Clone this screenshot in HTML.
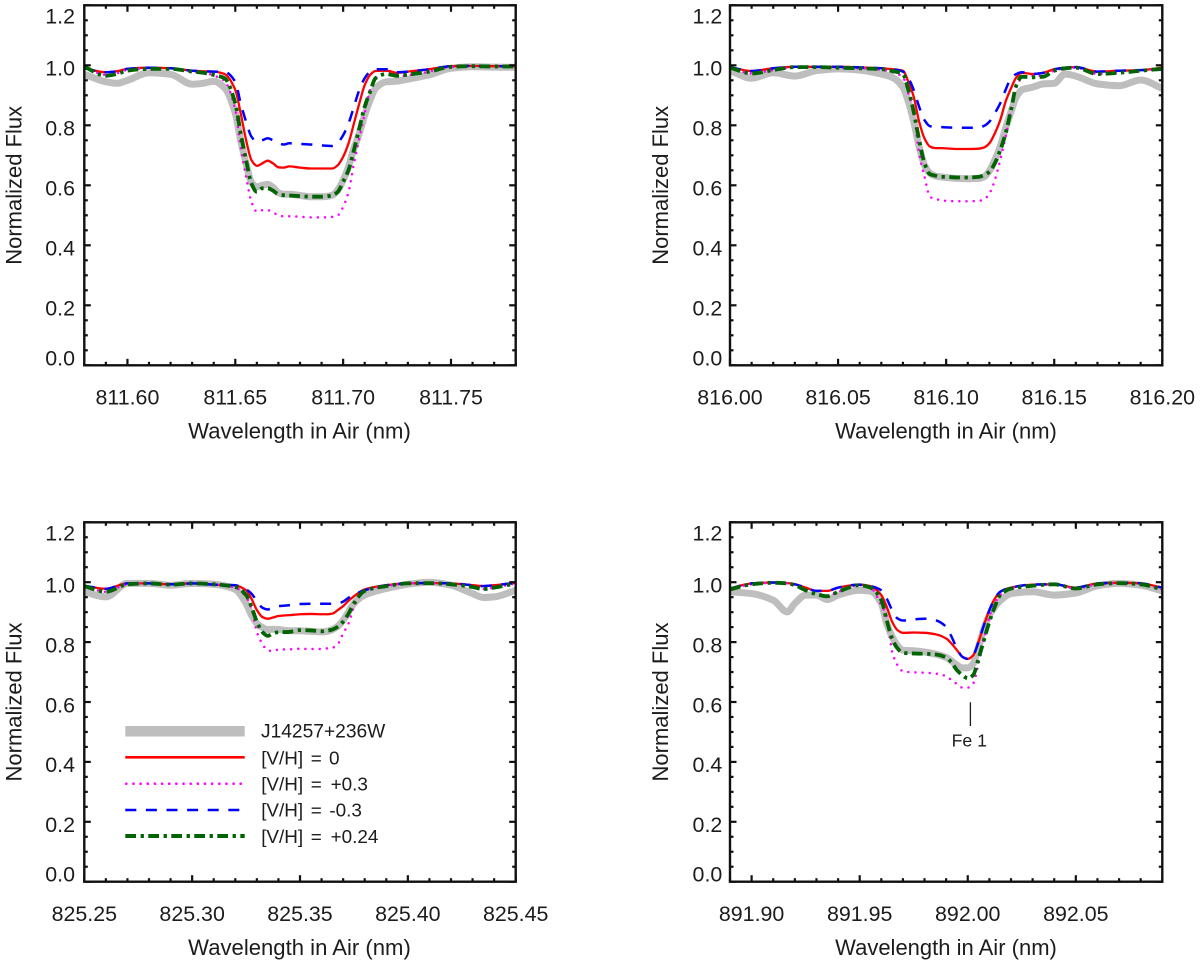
<!DOCTYPE html>
<html lang="en">
<head>
<meta charset="utf-8">
<title>Normalized flux spectra</title>
<style>
html,body{margin:0;padding:0;background:#fff;}
svg{display:block;}
text{font-family:"Liberation Sans",Arial,sans-serif;fill:#1c1c1c;}
</style>
</head>
<body>
<svg id="figure" xmlns="http://www.w3.org/2000/svg" width="1200" height="967" viewBox="0 0 1200 967">
  <rect x="0" y="0" width="1200" height="967" fill="#fff"/>
  <g id="panel-1">
    <text x="299.5" y="438.5" font-size="22.1" text-anchor="middle">Wavelength in Air (nm)</text>
    <text transform="translate(21.4,185.3) rotate(-90)" font-size="22" text-anchor="middle">Normalized Flux</text>
  </g>
  <g id="panel-2">
    <text x="946" y="438.5" font-size="22" text-anchor="middle">Wavelength in Air (nm)</text>
    <text transform="translate(667.9,185.3) rotate(-90)" font-size="22" text-anchor="middle">Normalized Flux</text>
  </g>
  <g id="panel-3">
    <text x="299.5" y="955" font-size="22.1" text-anchor="middle">Wavelength in Air (nm)</text>
    <text transform="translate(21.4,702) rotate(-90)" font-size="22" text-anchor="middle">Normalized Flux</text>
  </g>
  <g id="panel-4">
    <text x="946" y="955" font-size="22" text-anchor="middle">Wavelength in Air (nm)</text>
    <text transform="translate(667.9,702) rotate(-90)" font-size="22" text-anchor="middle">Normalized Flux</text>
    <line x1="970.4" y1="702.3" x2="970.4" y2="726" stroke="#1c1c1c" stroke-width="1.3"/>
    <text x="969.3" y="746.7" font-size="17.7" text-anchor="middle">Fe 1</text>
  </g>
  <g id="legend">
    <g>
      <line x1="125.3" y1="731.3" x2="244.7" y2="731.3" stroke="#bebebe" stroke-width="10.5"/>
      <text x="261" y="737.7" font-size="19.2">J14257+236W</text>
    </g>
    <g>
      <line x1="125.3" y1="757.3" x2="244.7" y2="757.3" stroke="#ff0000" stroke-width="2.6"/>
      <text y="764.3" font-size="18.9"><tspan x="261.2">[V/H]</tspan> <tspan x="310.7">=</tspan> <tspan x="329">0</tspan></text>
    </g>
    <g>
      <line x1="126.3" y1="783.7" x2="244.7" y2="783.7" stroke="#ff00ff" stroke-width="2.6" stroke-linecap="round" stroke-dasharray="0 7.15"/>
      <text y="790.7" font-size="18.9"><tspan x="261.2">[V/H]</tspan> <tspan x="310.7">=</tspan> <tspan x="330.6">+0.3</tspan></text>
    </g>
    <g>
      <line x1="125.3" y1="810" x2="244.7" y2="810" stroke="#0000ff" stroke-width="2.6" stroke-dasharray="11 9.6"/>
      <text y="816.7" font-size="18.9"><tspan x="261.2">[V/H]</tspan> <tspan x="310.7">=</tspan> <tspan x="329.4">-0.3</tspan></text>
    </g>
    <g>
      <line x1="125.3" y1="836" x2="244.7" y2="836" stroke="#006400" stroke-width="4" stroke-dasharray="10.7 4.6 3.3 4.4"/>
      <text y="843" font-size="18.9"><tspan x="261.2">[V/H]</tspan> <tspan x="310.7">=</tspan> <tspan x="330.6">+0.24</tspan></text>
    </g>
  </g>
</svg>
<script>
// ---------- Shared axis data ----------
const yTickLabels = ["0.0","0.2","0.4","0.6","0.8","1.0","1.2"];

// ---------- Panel 1: 811.58 - 811.78 nm ----------
const p1XTickLabels = ["811.60","811.65","811.70","811.75"];
const p1Wave = [811.58,811.59,811.595,811.60,811.61,811.62,811.63,811.635,811.64,811.645,811.65,811.6525,811.655,811.6575,811.66,811.6625,811.665,811.6675,811.67,811.6725,811.675,811.68,811.685,811.69,811.695,811.6975,811.70,811.7025,811.705,811.7075,811.71,811.7125,811.715,811.72,811.725,811.73,811.74,811.75,811.76,811.77,811.78];
const p1Observed = [.97,.945,.94,.95,.975,.97,.937,.94,.947,.925,.84,.75,.672,.61,.595,.60,.603,.593,.575,.57,.57,.566,.562,.562,.567,.584,.617,.662,.723,.773,.834,.884,.923,.945,.947,.954,.968,.99,.995,.994,.993];
const p1Vh0 = [.99,.977,.98,.988,.992,.99,.982,.98,.979,.971,.918,.84,.751,.684,.665,.673,.682,.673,.66,.659,.663,.659,.656,.656,.656,.667,.695,.74,.806,.873,.934,.968,.981,.982,.975,.979,.987,.997,.998,.997,.997];
const p1VhPlus03 = [.995,.968,.973,.985,.99,.988,.98,.976,.966,.948,.851,.728,.628,.545,.512,.517,.517,.51,.5,.497,.497,.495,.493,.493,.495,.5,.528,.578,.673,.756,.84,.918,.957,.971,.963,.967,.979,.995,.997,.996,.996];
const p1VhMinus03 = [.99,.977,.98,.988,.992,.99,.982,.98,.979,.978,.945,.873,.812,.762,.745,.75,.757,.75,.74,.736,.74,.738,.736,.733,.731,.742,.767,.806,.862,.918,.957,.979,.987,.987,.977,.979,.987,.997,.998,.997,.997];
const p1VhPlus024 = [.995,.965,.971,.982,.988,.988,.979,.975,.968,.957,.873,.773,.684,.606,.578,.59,.59,.582,.57,.567,.566,.564,.562,.562,.567,.578,.612,.651,.717,.79,.862,.912,.957,.971,.965,.969,.979,.995,.997,.996,.996];

// ---------- Panel 2: 816.00 - 816.20 nm ----------
const p2XTickLabels = ["816.00","816.05","816.10","816.15","816.20"];
const p2Wave = [816.00,816.01,816.02,816.03,816.04,816.05,816.06,816.07,816.075,816.08,816.0825,816.085,816.0875,816.09,816.0925,816.095,816.0975,816.10,816.105,816.11,816.115,816.1175,816.12,816.1225,816.125,816.1275,816.13,816.1325,816.135,816.14,816.145,816.15,816.155,816.16,816.17,816.18,816.19,816.20];
const p2Observed = [.982,.957,.975,.964,.982,.988,.984,.971,.96,.927,.879,.812,.729,.667,.64,.631,.628,.626,.623,.622,.623,.628,.648,.684,.729,.79,.845,.895,.918,.927,.938,.94,.971,.964,.938,.932,.951,.923];
const p2Vh0 = [.994,.981,.99,.995,.995,.995,.993,.99,.987,.982,.945,.895,.812,.756,.729,.724,.724,.723,.721,.721,.722,.726,.74,.773,.817,.879,.923,.96,.975,.971,.975,.987,.992,.994,.979,.982,.984,.992];
const p2VhPlus03 = [.992,.973,.984,.994,.994,.992,.99,.985,.977,.96,.907,.84,.706,.628,.562,.554,.551,.548,.547,.547,.548,.553,.573,.617,.684,.762,.851,.928,.957,.965,.965,.982,.99,.992,.971,.975,.982,.988];
const p2VhMinus03 = [.994,.981,.99,.995,.995,.995,.993,.99,.987,.979,.957,.918,.862,.817,.797,.794,.794,.793,.792,.792,.792,.798,.812,.84,.873,.918,.957,.971,.977,.971,.975,.987,.992,.994,.979,.982,.984,.985];
const p2VhPlus024 = [.992,.973,.984,.994,.994,.992,.99,.987,.981,.971,.918,.845,.751,.673,.637,.632,.628,.628,.626,.626,.628,.634,.645,.673,.717,.773,.851,.934,.962,.96,.962,.982,.99,.992,.971,.975,.982,.988];

// ---------- Panel 3: 825.25 - 825.45 nm ----------
const p3XTickLabels = ["825.25","825.30","825.35","825.40","825.45"];
const p3Wave = [825.25,825.26,825.27,825.28,825.29,825.30,825.31,825.32,825.325,825.3275,825.33,825.3325,825.335,825.3375,825.34,825.345,825.35,825.355,825.36,825.3625,825.365,825.3675,825.37,825.3725,825.375,825.38,825.39,825.40,825.41,825.42,825.43,825.435,825.44,825.45];
const p3Observed = [.968,.951,.996,.996,.99,.996,.993,.976,.929,.89,.862,.849,.842,.843,.842,.838,.838,.836,.834,.836,.842,.853,.873,.901,.929,.957,.979,.993,1.0,.99,.962,.949,.951,.973];
const p3Vh0 = [.988,.978,.996,.996,.993,.996,.992,.989,.973,.945,.907,.884,.878,.882,.887,.89,.893,.894,.893,.893,.895,.907,.92,.938,.953,.976,.99,.996,.997,.996,.99,.987,.99,.998];
const p3VhPlus03 = [.987,.968,.993,.996,.992,.996,.993,.982,.951,.912,.834,.795,.773,.77,.775,.776,.778,.777,.777,.779,.781,.793,.829,.862,.918,.971,.987,.996,.997,.993,.984,.977,.982,.996];
const p3VhMinus03 = [.988,.978,.996,.996,.993,.996,.992,.99,.976,.962,.937,.915,.909,.915,.92,.923,.927,.928,.928,.928,.928,.929,.935,.948,.959,.973,.99,.996,.997,.996,.99,.987,.99,.998];
const p3VhPlus024 = [.987,.968,.993,.996,.992,.996,.993,.984,.957,.918,.868,.834,.821,.829,.833,.834,.84,.839,.836,.838,.842,.851,.868,.895,.929,.971,.987,.996,.997,.993,.984,.977,.982,.996];

// ---------- Panel 4: 891.89 - 892.09 nm ----------
const p4XTickLabels = ["891.90","891.95","892.00","892.05"];
const p4Wave = [891.89,891.90,891.91,891.9165,891.92,891.925,891.93,891.935,891.94,891.95,891.955,891.96,891.9625,891.965,891.9675,891.97,891.975,891.98,891.985,891.99,891.9925,891.995,891.9975,892.00,892.0025,892.005,892.0075,892.01,892.0125,892.015,892.02,892.03,892.04,892.05,892.06,892.07,892.08,892.09];
const p4Observed = [.968,.962,.94,.901,.929,.957,.957,.942,.957,.973,.97,.929,.862,.818,.788,.773,.771,.767,.76,.749,.737,.723,.714,.714,.728,.784,.845,.89,.918,.938,.962,.968,.957,.964,.988,.996,.99,.971];
const p4Vh0 = [.979,.996,.999,.997,.993,.982,.971,.971,.982,.992,.987,.957,.918,.868,.84,.831,.832,.831,.826,.812,.795,.773,.751,.744,.756,.801,.857,.907,.945,.968,.982,.992,.993,.982,.996,.998,.996,.982];
const p4VhPlus03 = [.976,.993,.998,.996,.99,.973,.96,.953,.968,.99,.982,.923,.884,.768,.723,.703,.699,.698,.695,.686,.673,.66,.648,.648,.662,.728,.807,.884,.929,.957,.979,.988,.993,.979,.993,.997,.993,.976];
const p4VhMinus03 = [.979,.996,.999,.997,.993,.982,.971,.971,.982,.992,.987,.973,.945,.907,.879,.872,.876,.878,.873,.851,.818,.779,.751,.744,.756,.801,.857,.907,.945,.968,.982,.992,.993,.982,.996,.998,.996,.982];
const p4VhPlus024 = [.976,.993,.998,.996,.99,.973,.96,.953,.968,.99,.982,.94,.873,.812,.779,.764,.762,.761,.759,.749,.732,.706,.69,.679,.69,.745,.807,.868,.918,.957,.979,.988,.993,.979,.993,.997,.993,.976];

// ---------- Layout and styles ----------
const SVG_NS = "http://www.w3.org/2000/svg";
const panels = [
  {id:"panel-1",left:84.3,right:515.7,top:5.3,bottom:365.3,xMin:811.58,xMax:811.78,xLabels:p1XTickLabels,yLabelRight:75,wave:p1Wave,obs:p1Observed,v0:p1Vh0,vp:p1VhPlus03,vm:p1VhMinus03,vb:p1VhPlus024},
  {id:"panel-2",left:730,right:1162.3,top:5.3,bottom:365.3,xMin:816.00,xMax:816.20,xLabels:p2XTickLabels,yLabelRight:722.3,wave:p2Wave,obs:p2Observed,v0:p2Vh0,vp:p2VhPlus03,vm:p2VhMinus03,vb:p2VhPlus024},
  {id:"panel-3",left:84.3,right:515.7,top:522.3,bottom:881.7,xMin:825.25,xMax:825.45,xLabels:p3XTickLabels,yLabelRight:75,wave:p3Wave,obs:p3Observed,v0:p3Vh0,vp:p3VhPlus03,vm:p3VhMinus03,vb:p3VhPlus024},
  {id:"panel-4",left:730,right:1162.3,top:522.3,bottom:881.7,xMin:891.89,xMax:892.09,xLabels:p4XTickLabels,yLabelRight:722.3,wave:p4Wave,obs:p4Observed,v0:p4Vh0,vp:p4VhPlus03,vm:p4VhMinus03,vb:p4VhPlus024}
];

function make(tag, attrs, parent) {
  const el = document.createElementNS(SVG_NS, tag);
  for (const k in attrs) el.setAttribute(k, attrs[k]);
  parent.appendChild(el);
  return el;
}

// Monotone cubic path through the data points (no overshoot).
function monotonePath(xs, ys) {
  const n = xs.length, d = [], m = [];
  for (let i = 0; i < n - 1; i++) d.push((ys[i + 1] - ys[i]) / (xs[i + 1] - xs[i]));
  m.push(d[0]);
  for (let i = 1; i < n - 1; i++) {
    if (d[i - 1] * d[i] <= 0) { m.push(0); continue; }
    const h0 = xs[i] - xs[i - 1], h1 = xs[i + 1] - xs[i];
    const w0 = 2 * h1 + h0, w1 = h1 + 2 * h0;
    m.push((w0 + w1) / (w0 / d[i - 1] + w1 / d[i]));
  }
  m.push(d[n - 2]);
  let path = "M" + xs[0].toFixed(2) + " " + ys[0].toFixed(2);
  for (let i = 0; i < n - 1; i++) {
    const h = (xs[i + 1] - xs[i]) / 3;
    path += "C" + (xs[i] + h).toFixed(2) + " " + (ys[i] + m[i] * h).toFixed(2) + " " +
      (xs[i + 1] - h).toFixed(2) + " " + (ys[i + 1] - m[i + 1] * h).toFixed(2) + " " +
      xs[i + 1].toFixed(2) + " " + ys[i + 1].toFixed(2);
  }
  return path;
}

panels.forEach(function (p, idx) {
  const root = document.getElementById(p.id);
  const xScale = function (v) { return p.left + (v - p.xMin) / (p.xMax - p.xMin) * (p.right - p.left); };
  const yScale = function (v) { return p.bottom - v / 1.2 * (p.bottom - p.top); };

  // Series
  const clipId = "clip-" + idx;
  const defs = make("defs", {}, root);
  const clip = make("clipPath", {id: clipId}, defs);
  make("rect", {x: p.left, y: p.top, width: p.right - p.left, height: p.bottom - p.top}, clip);
  const seriesGroup = make("g", {"clip-path": "url(#" + clipId + ")"}, root);
  
  
  const xs = p.wave.map(xScale);

  const obs = make("path", {d: monotonePath(xs, p.obs.map(yScale)), fill: "none", stroke: "#bebebe", "stroke-width": 7, "stroke-linejoin": "round"}, seriesGroup);
  
  

  const v0 = make("path", {d: monotonePath(xs, p.v0.map(yScale)), fill: "none", stroke: "#ff0000", "stroke-width": 2.3}, seriesGroup);
  
  

  const vp = make("path", {d: monotonePath(xs, p.vp.map(yScale)), fill: "none", stroke: "#ff00ff", "stroke-width": 2.5, "stroke-linecap": "round", "stroke-dasharray": "0 7.15"}, seriesGroup);
  
  

  const vm = make("path", {d: monotonePath(xs, p.vm.map(yScale)), fill: "none", stroke: "#0000ff", "stroke-width": 2.5, "stroke-dasharray": "11 9.6"}, seriesGroup);
  
  

  const vb = make("path", {d: monotonePath(xs, p.vb.map(yScale)), fill: "none", stroke: "#006400", "stroke-width": 3.8, "stroke-dasharray": "10.7 4.6 3.3 4.4"}, seriesGroup);
  
  

  // Ticks
  const ticks = make("g", {stroke: "#111", "stroke-width": 2.2}, root);
  
  
  const firstMinor = Math.ceil(p.xMin * 100 - 1e-6);
  const lastMinor = Math.floor(p.xMax * 100 + 1e-6);
  for (let k = firstMinor; k <= lastMinor; k++) {
    const x = xScale(k / 100);
    const len = k % 5 === 0 ? 6.5 : 3.5;
    const b = make("line", {x1: x, x2: x, y1: p.bottom, y2: p.bottom - len}, ticks);
    
    
    const t = make("line", {x1: x, x2: x, y1: p.top, y2: p.top + len}, ticks);
    
    
  }
  for (let k = 0; k <= 24; k++) {
    const y = yScale(k / 20);
    const len = k % 4 === 0 ? 6.5 : 3.5;
    const l = make("line", {x1: p.left, x2: p.left + len, y1: y, y2: y}, ticks);
    
    
    const r = make("line", {x1: p.right, x2: p.right - len, y1: y, y2: y}, ticks);
    
    
  }

  // Frame
  const frame = make("rect", {x: p.left, y: p.top, width: p.right - p.left, height: p.bottom - p.top, fill: "none", stroke: "#111", "stroke-width": 2.4}, root);
  
  

  // Tick labels
  p.xLabels.forEach(function (label) {
    const t = make("text", {x: xScale(parseFloat(label)), y: p.bottom + 39.3, "font-size": 21.4, "text-anchor": "middle"}, root);
    
    
    t.textContent = label;
  });
  yTickLabels.forEach(function (label) {
    const base = Math.max(p.top + 18.3, Math.min(p.bottom, yScale(parseFloat(label)) + 10.3));
    const t = make("text", {x: p.yLabelRight, y: base, "font-size": 21.4, "text-anchor": "end"}, root);
    
    
    t.textContent = label;
  });
});
</script>
</body>
</html>
